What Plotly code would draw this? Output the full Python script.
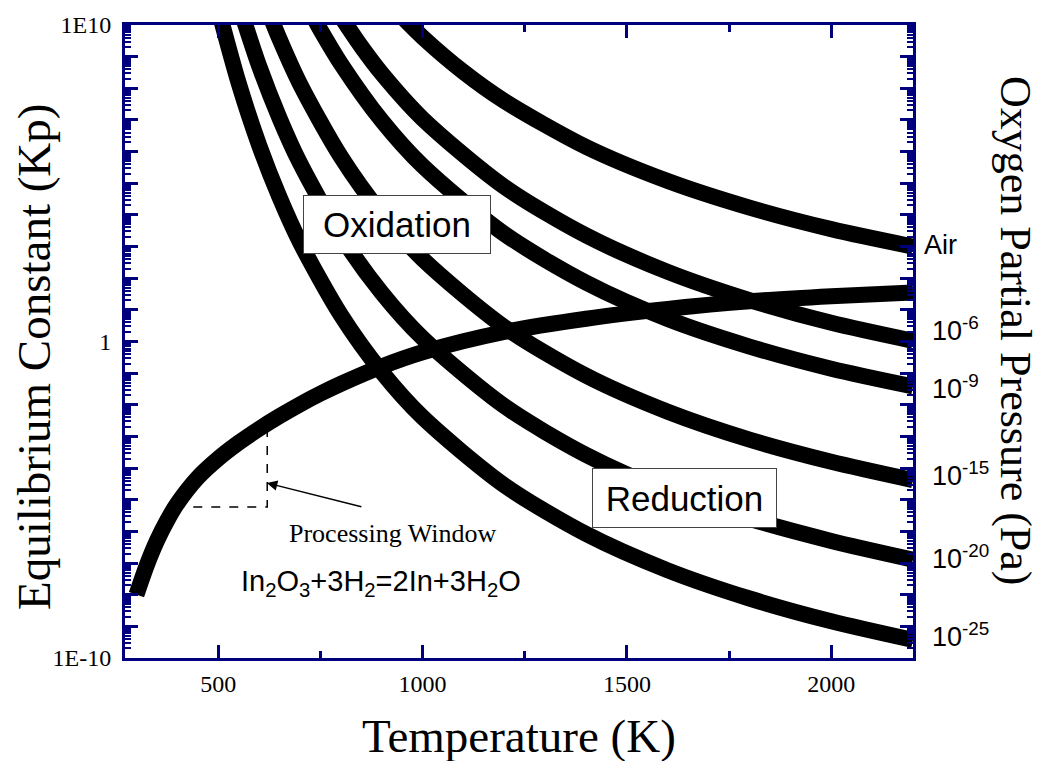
import plotly.graph_objects as go

# ---- data (log10 of the equilibrium constant vs. temperature in K) ----
# In2O3 + 3H2 = 2In + 3H2O
kp_T = [300, 325, 350, 375, 400, 450, 500, 550, 600, 650, 700, 750, 800, 900,
        1000, 1200, 1400, 1600, 1800, 2000, 2200]
kp_log = [-8.00, -7.08, -6.30, -5.66, -5.12, -4.30, -3.70, -3.20, -2.76, -2.36,
          -1.99, -1.65, -1.34, -0.79, -0.34, 0.30, 0.72, 1.03, 1.27, 1.43, 1.55]

# oxidation limits for several oxygen partial pressures
air_T = [950, 1000, 1100, 1200, 1400, 1600, 1800, 2000, 2200]
air_log = [10.26, 9.62, 8.52, 7.60, 6.15, 5.07, 4.23, 3.55, 3.00]

p6_T = [800, 850, 900, 1000, 1200, 1400, 1600, 1800, 2000, 2200]
p6_log = [10.27, 9.32, 8.47, 7.04, 4.89, 3.35, 2.20, 1.31, 0.59, 0.02]

p9_T = [730, 750, 800, 900, 1000, 1200, 1400, 1600, 1800, 2000, 2200]
p9_log = [10.32, 9.85, 8.78, 6.98, 5.55, 3.40, 1.86, 0.71, -0.16, -0.86, -1.42]

p15_T = [620, 650, 700, 800, 900, 1000, 1200, 1400, 1600, 1800, 2000, 2200]
p15_log = [10.52, 9.56, 8.14, 5.84, 4.04, 2.61, 0.46, -1.08, -2.22, -3.10, -3.80, -4.38]

p20_T = [550, 600, 650, 700, 800, 900, 1000, 1200, 1400, 1600, 1800, 2000, 2200]
p20_log = [10.67, 8.71, 7.06, 5.64, 3.34, 1.54, 0.11, -2.04, -3.58, -4.73, -5.60, -6.30, -6.89]

p25_T = [500, 550, 600, 650, 700, 800, 900, 1000, 1200, 1400, 1600, 1800, 2000, 2200]
p25_log = [10.51, 8.17, 6.21, 4.56, 3.14, 0.84, -0.96, -2.39, -4.54, -6.08, -7.23, -8.12, -8.84, -9.43]

# processing window (temperature range, log10 Kp level)
window_T = [395, 620]
window_log = [-5.23, -2.70]

pressure_labels = ["Air", "10<sup>-6</sup>", "10<sup>-9</sup>", "10<sup>-15</sup>",
                   "10<sup>-20</sup>", "10<sup>-25</sup>"]
pressure_label_y = [0.652, 0.520, 0.428, 0.290, 0.160, 0.036]

x_ticks = [500, 1000, 1500, 2000]
x_minor = [750, 1250, 1750]

NAVY = "#00007f"
SERIF = "Liberation Serif, Times New Roman, serif"
SANS = "Liberation Sans, Arial, sans-serif"
LW = 16

fig = go.Figure()

curves = [(kp_T, kp_log), (air_T, air_log), (p6_T, p6_log), (p9_T, p9_log),
          (p15_T, p15_log), (p20_T, p20_log), (p25_T, p25_log)]
for t, lg in curves:
    fig.add_trace(go.Scatter(
        x=t, y=[10.0 ** v for v in lg], mode="lines",
        line=dict(color="black", width=LW, shape="spline", smoothing=0.8),
        hoverinfo="skip"))

# dashed guide lines marking the processing window
fig.add_trace(go.Scatter(
    x=[window_T[0], window_T[1], window_T[1]],
    y=[10.0 ** window_log[0], 10.0 ** window_log[0], 10.0 ** window_log[1]],
    mode="lines", line=dict(color="black", width=1.5, dash="dash"),
    hoverinfo="skip"))

# empty trace that carries the unlabelled decade-tick axis
fig.add_trace(go.Scatter(x=[], y=[], yaxis="y2", hoverinfo="skip"))

y_labelled = [1e-10, 1.0, 1e10]
y_labels = ["1E-10", "1", "1E10"]
y_decades = [10.0 ** e for e in range(-10, 11)]
y_minor = [k * 10.0 ** e for e in range(-10, 10) for k in range(2, 10)]

fig.update_xaxes(
    range=[272, 2200], showline=True, linecolor=NAVY, linewidth=3,
    mirror="ticks", ticks="inside", ticklen=13, tickwidth=2.5, tickcolor=NAVY,
    tickmode="array", tickvals=x_ticks, ticktext=[str(v) for v in x_ticks],
    tickfont=dict(family=SERIF, size=24, color="black"), ticklabelstandoff=2,
    minor=dict(ticks="inside", ticklen=7, tickwidth=2.5, tickcolor=NAVY,
               tickmode="array", tickvals=x_minor),
    showgrid=False, zeroline=False)

fig.update_layout(
    yaxis=dict(
        type="log", range=[-10, 10], showline=True, linecolor=NAVY, linewidth=3,
        mirror="ticks", ticks="inside", ticklen=13, tickwidth=2.5, tickcolor=NAVY,
        tickmode="array", tickvals=y_labelled, ticktext=y_labels,
        tickfont=dict(family=SERIF, size=24, color="black"), ticklabelstandoff=6,
        minor=dict(ticks="inside", ticklen=6, tickwidth=2, tickcolor=NAVY,
                   tickmode="array", tickvals=y_minor),
        showgrid=False, zeroline=False),
    yaxis2=dict(
        type="log", range=[-10, 10], overlaying="y", side="left",
        showline=True, linecolor=NAVY, linewidth=3, mirror="ticks",
        ticks="inside", ticklen=13, tickwidth=2.5, tickcolor=NAVY,
        tickmode="array", tickvals=y_decades, showticklabels=False,
        showgrid=False, zeroline=False),
)

ann = []
# axis titles
ann.append(dict(text="Temperature (K)", x=0.5, y=-0.124, xref="paper", yref="paper",
                showarrow=False, font=dict(family=SERIF, size=47, color="black"),
                xanchor="center", yanchor="middle"))
ann.append(dict(text="Equilibrium Constant (Kp)", x=-0.1155, y=0.477, xref="paper",
                yref="paper", showarrow=False, textangle=-90,
                font=dict(family=SERIF, size=47, color="black"),
                xanchor="center", yanchor="middle"))
ann.append(dict(text="Oxygen Partial Pressure (Pa)", x=1.13, y=0.516, xref="paper",
                yref="paper", showarrow=False, textangle=90,
                font=dict(family=SERIF, size=44, color="black"),
                xanchor="center", yanchor="middle"))

# oxygen partial pressure labels next to each curve
for txt, yy in zip(pressure_labels, pressure_label_y):
    ann.append(dict(text=txt, x=1.012 if txt == "Air" else 1.022, y=yy,
                    xref="paper", yref="paper", showarrow=False, xanchor="left",
                    yanchor="middle", font=dict(family=SANS, size=27, color="black")))

# region boxes
ann.append(dict(text="Oxidation", x=0.3452, y=0.6845, xref="paper", yref="paper",
                xanchor="center", yanchor="middle",
                showarrow=False, width=184, height=55, bgcolor="white",
                bordercolor="#444444", borderwidth=1, borderpad=1,
                font=dict(family=SANS, size=35, color="black")))
ann.append(dict(text="Reduction", x=0.7094, y=0.252, xref="paper", yref="paper",
                xanchor="center", yanchor="middle",
                showarrow=False, width=181, height=56, bgcolor="white",
                bordercolor="#444444", borderwidth=1, borderpad=1,
                font=dict(family=SANS, size=35, color="black")))

# processing window note
ann.append(dict(text="Processing Window", x=0.339, y=0.196, xref="paper", yref="paper",
                xanchor="center", yanchor="middle", showarrow=False,
                font=dict(family=SERIF, size=26, color="black")))
ann.append(dict(x=619, y=-4.47, ax=854, ay=-5.23, xref="x", yref="y", axref="x",
                ayref="y", showarrow=True, arrowhead=2, arrowsize=1.4,
                arrowwidth=1.5, arrowcolor="black", text=""))
ann.append(dict(text="In<sub>2</sub>O<sub>3</sub>+3H<sub>2</sub>=2In+3H<sub>2</sub>O",
                x=0.325, y=0.118, xref="paper", yref="paper", showarrow=False,
                xanchor="center", yanchor="middle",
                font=dict(family=SANS, size=29, color="black")))

fig.update_layout(
    width=1041, height=761, margin=dict(l=125, r=128, t=21, b=103),
    paper_bgcolor="white", plot_bgcolor="white", showlegend=False,
    annotations=ann)

fig.write_html("out.html")
